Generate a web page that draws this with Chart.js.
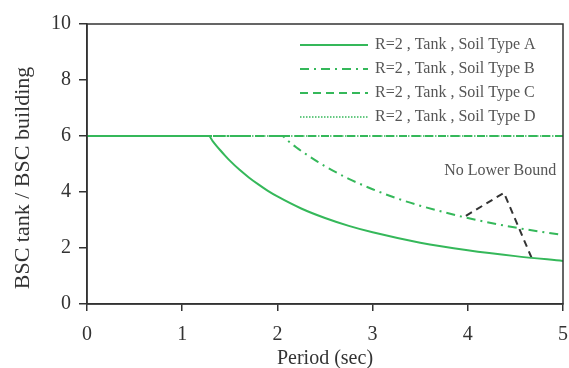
<!DOCTYPE html>
<html>
<head>
<meta charset="utf-8">
<script src="https://cdn.jsdelivr.net/npm/chart.js@4"></script>
<style>
    html, body { margin: 0; padding: 0; background: #fff; }
    #wrap { width: 569px; height: 368px; }
</style>
</head>
<body>
<div id="wrap"><canvas id="chartBsc"></canvas></div>
<script>
// periods (sec) and BSC ratio for each soil type
var periodA = [0, 1.28, 1.32, 1.36, 1.4, 1.45, 1.5, 1.6, 1.7, 1.8, 1.9, 2.0, 2.25, 2.5, 2.75, 3.0, 3.5, 4.0, 4.5, 5.0]
var ratioA  = [6, 6, 5.82, 5.65, 5.49, 5.3, 5.12, 4.8, 4.52, 4.27, 4.04, 3.84, 3.41, 3.07, 2.79, 2.56, 2.19, 1.92, 1.71, 1.54]

var periodB = [0, 2.05, 2.1, 2.15, 2.2, 2.3, 2.4, 2.5, 2.75, 3.0, 3.25, 3.5, 4.0, 4.5, 5.0]
var ratioB  = [6, 6, 5.86, 5.72, 5.59, 5.35, 5.13, 4.92, 4.47, 4.1, 3.78, 3.51, 3.07, 2.73, 2.46]

var periodC = [0, 5]
var ratioC  = [6, 6]

var periodD = [0, 5]
var ratioD  = [6, 6]

// "No Lower Bound" pointer
var periodNote = [3.98, 4.38, 4.67]
var ratioNote  = [3.15, 3.97, 1.65]

var xTicks = [0, 1, 2, 3, 4, 5]
var yTicks = [0, 2, 4, 6, 8, 10]

var seriesLabels = [
    'R=2 , Tank , Soil Type A',
    'R=2 , Tank , Soil Type B',
    'R=2 , Tank , Soil Type C',
    'R=2 , Tank , Soil Type D',
]
var noteText = 'No Lower Bound'
var yTitle = 'BSC tank / BSC building'

var green = '#35b85a'
var ink = '#333333'
var serif = '"Liberation Serif", "Times New Roman", serif'

function toPoints(xs, ys) {
    return xs.map(function (x, i) { return { x: x, y: ys[i] } })
}

// frame around the plot, legend inside, note text, y title
var decorations = {
    id: 'decorations',
    afterDraw: function (chart) {
        var ctx = chart.ctx
        var a = chart.chartArea
        ctx.save()
        ctx.strokeStyle = ink
        ctx.lineWidth = 1.5
        ctx.strokeRect(a.left, a.top, a.right - a.left, a.bottom - a.top)

        ctx.font = '16px ' + serif
        ctx.fillStyle = '#555'
        ctx.textBaseline = 'middle'
        for (var i = 0; i < 4; i++) {
            var ds = chart.data.datasets[i]
            var y = 45 + i * 24
            ctx.beginPath()
            ctx.strokeStyle = ds.borderColor
            ctx.lineWidth = ds.borderWidth
            ctx.setLineDash(ds.borderDash || [])
            ctx.moveTo(300, y)
            ctx.lineTo(368, y)
            ctx.stroke()
            ctx.setLineDash([])
            ctx.fillText(seriesLabels[i], 375, y)
        }

        var sx = chart.scales.x, sy = chart.scales.y
        ctx.textAlign = 'center'
        ctx.fillText(noteText, sx.getPixelForValue(4.34), sy.getPixelForValue(4.75))

        ctx.translate(23, a.top + 154)
        ctx.rotate(-Math.PI / 2)
        ctx.font = '22px ' + serif
        ctx.fillStyle = ink
        ctx.fillText(yTitle, 0, 0)
        ctx.restore()
    }
}

var datasets = [
    { data: toPoints(periodA, ratioA), borderColor: green, borderWidth: 2, borderDash: [], cubicInterpolationMode: 'monotone' },
    { data: toPoints(periodB, ratioB), borderColor: green, borderWidth: 2, borderDash: [9, 5, 2, 5], cubicInterpolationMode: 'monotone' },
    { data: toPoints(periodC, ratioC), borderColor: green, borderWidth: 2, borderDash: [8, 5] },
    { data: toPoints(periodD, ratioD), borderColor: green, borderWidth: 1.5, borderDash: [1.5, 1.5] },
    { data: toPoints(periodNote, ratioNote), borderColor: ink, borderWidth: 2, borderDash: [7, 5] },
]
datasets.forEach(function (d) {
    d.showLine = true
    d.pointRadius = 0
    d.fill = false
})

new Chart(document.getElementById('chartBsc').getContext('2d'), {
    type: 'scatter',
    data: { datasets: datasets },
    options: {
        responsive: true,
        maintainAspectRatio: false,
        animation: false,
        layout: { padding: { top: 24, right: 6, left: 8, bottom: 0 } },
        plugins: { legend: { display: false }, tooltip: { enabled: false } },
        scales: {
            x: {
                type: 'linear', min: 0, max: 5,
                afterBuildTicks: function (s) { s.ticks = xTicks.map(function (v) { return { value: v } }) },
                afterFit: function (s) { s.height = 64; s.paddingRight = 0; s.paddingLeft = 0 },
                grid: { drawOnChartArea: false, drawTicks: true, tickLength: 7, color: ink, lineWidth: 1.5 },
                border: { color: ink, width: 1.5 },
                ticks: { color: ink, font: { family: serif, size: 20 }, padding: 12, maxRotation: 0 },
                title: { display: true, text: 'Period (sec)', color: ink, font: { family: serif, size: 20 }, padding: { top: 0, bottom: -3 } }
            },
            y: {
                type: 'linear', min: 0, max: 10,
                afterBuildTicks: function (s) { s.ticks = yTicks.map(function (v) { return { value: v } }) },
                afterFit: function (s) { s.width = 79 },
                grid: { drawOnChartArea: false, drawTicks: true, tickLength: 8, color: ink, lineWidth: 1.5 },
                border: { color: ink, width: 1.5 },
                ticks: { color: ink, font: { family: serif, size: 20 }, padding: 8 }
            }
        }
    },
    plugins: [decorations]
})
</script>
</body>
</html>
